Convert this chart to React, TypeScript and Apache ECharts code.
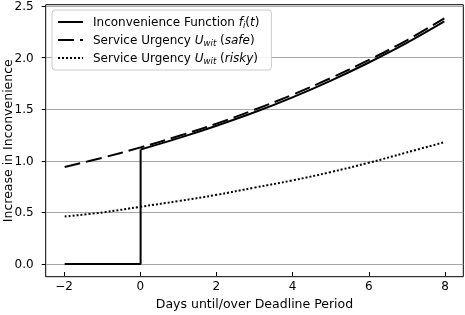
import React, { useEffect, useRef } from "react";
import * as echarts from "echarts";

// Days until/over deadline (x) readings
const daysAll = [-2, -1, 0, 1, 2, 3, 4, 5, 6, 7, 8];
const daysAfter = [0, 1, 2, 3, 4, 5, 6, 7, 8];
const stepDays = [-2, 0, 0];

// Series values
const inconvenienceAfter = [1.11, 1.22, 1.34, 1.47, 1.615, 1.775, 1.95, 2.14, 2.35];
const inconvenienceStep = [0, 0, 1.11];
const urgencySafe = [0.94, 1.03, 1.13, 1.24, 1.36, 1.495, 1.64, 1.8, 1.975, 2.165, 2.38];
const urgencyRisky = [0.46, 0.5, 0.555, 0.61, 0.67, 0.74, 0.81, 0.89, 0.98, 1.08, 1.18];

const seriesNames = ["inconv", "safe", "risky"];
const legendLabels: Record<string, string> = {
  inconv: "Inconvenience Function {i|f}{si|i}({i|t})",
  safe: "Service Urgency {i|U}{si|wit} ({i|safe})",
  risky: "Service Urgency {i|U}{si|wit} ({i|risky})",
};

const xTitle = "Days until/over Deadline Period";
const yTitle = "Increase in Inconvenience";

const FONT = "DejaVu Sans";

export default function App() {
  const ref = useRef<HTMLDivElement>(null);
  useEffect(() => {
    if (!ref.current) return;
    const chart = echarts.init(ref.current, null, { renderer: "svg" });
    const zip = (xs: number[], ys: number[]) => xs.map((x, i) => [x, ys[i]]);
    const gridL = 45.7, gridR = 1.7, gridT = 4.7, gridB = 38.3;
    const H = 315;
    chart.setOption({
      animation: false,
      textStyle: { fontFamily: FONT },
      grid: [
        { left: gridL, right: gridR, top: gridT, bottom: 51 },
        { left: 64, right: 20, top: gridT, bottom: gridB },
        { left: gridL, right: gridR, top: gridT, bottom: gridB, show: true, borderColor: "#000", borderWidth: 1, backgroundColor: "transparent" },
      ],
      xAxis: [
        { type: "value", gridIndex: 0, min: -2.5, max: 8.5, show: false, axisLine: { onZero: false } },
        {
          type: "value", gridIndex: 1, min: -2, max: 8, interval: 2,
          axisLine: { show: false, onZero: false },
          axisTick: { show: true, length: 4, lineStyle: { color: "#000" } },
          axisLabel: { color: "#000", fontSize: 12, margin: 8, fontFamily: FONT, formatter: (v: number) => (v < 0 ? "\u2212" + Math.abs(v) : String(v)) },
          splitLine: { show: false },
          name: xTitle, nameLocation: "middle", nameGap: 25,
          nameTextStyle: { color: "#000", fontSize: 12.5, fontFamily: FONT },
        },
        { type: "value", gridIndex: 2, min: 0, max: 1, show: false, axisLine: { onZero: false } },
      ],
      yAxis: [
        {
          type: "value", gridIndex: 0, min: 0, max: 2.5, interval: 0.5,
          axisLine: { show: false, onZero: false },
          axisTick: { show: true, length: 4, lineStyle: { color: "#000" } },
          axisLabel: { color: "#000", fontSize: 12, margin: 12, fontFamily: FONT, formatter: (v: number) => v.toFixed(1) },
          splitLine: { show: true, lineStyle: { color: "#a6a6a6", width: 1 } },
        },
        { type: "value", gridIndex: 1, min: 0, max: 1, show: false, axisLine: { onZero: false } },
        { type: "value", gridIndex: 2, min: 0, max: 1, show: false, axisLine: { onZero: false } },
      ],
      graphic: [
        {
          type: "text",
          x: 7.5,
          y: (gridT + (H - gridB)) / 2,
          rotation: Math.PI / 2,
          style: { text: yTitle, fill: "#000", font: `12.5px '${FONT}'`, textAlign: "center", textVerticalAlign: "middle" },
        },
      ],
      legend: {
        orient: "vertical",
        left: 52, top: 10,
        data: seriesNames,
        itemWidth: 25, itemHeight: 14, itemGap: 5,
        padding: [6, 12, 5, 5],
        borderColor: "#cccccc", borderWidth: 1, borderRadius: 3,
        backgroundColor: "rgba(255,255,255,0.85)",
        itemStyle: { opacity: 0, borderWidth: 0 },
        formatter: (name: string) => legendLabels[name],
        textStyle: {
          color: "#000", fontSize: 12, fontFamily: FONT, padding: [0, 0, 0, 5],
          rich: {
            i: { fontStyle: "italic", fontSize: 12, fontFamily: FONT, color: "#000" },
            si: { fontStyle: "italic", fontSize: 8.5, fontFamily: FONT, color: "#000", padding: [5, 0, 0, 0] },
          },
        },
      },
      series: [
        {
          name: "inconv", type: "line", xAxisIndex: 0, yAxisIndex: 0, data: zip(daysAfter, inconvenienceAfter),
          smooth: 0.4, showSymbol: false, symbol: "none", clip: false,
          lineStyle: { color: "#000", width: 2, type: "solid" }, itemStyle: { color: "#000" }, z: 4,
        },
        {
          name: "safe", type: "line", xAxisIndex: 0, yAxisIndex: 0, data: zip(daysAll, urgencySafe),
          smooth: 0.4, showSymbol: false, symbol: "none", clip: false,
          lineStyle: { color: "#000", width: 2, type: [16, 6] }, itemStyle: { color: "#000" }, z: 3,
        },
        {
          name: "risky", type: "line", xAxisIndex: 0, yAxisIndex: 0, data: zip(daysAll, urgencyRisky),
          smooth: 0.4, showSymbol: false, symbol: "none", clip: false,
          lineStyle: { color: "#000", width: 2, type: [2, 2] }, itemStyle: { color: "#000" }, z: 3,
        },
        {
          name: "inconv", type: "line", xAxisIndex: 0, yAxisIndex: 0, data: zip(stepDays, inconvenienceStep),
          smooth: false, showSymbol: false, symbol: "none", clip: false,
          lineStyle: { color: "#000", width: 2, type: "solid" }, itemStyle: { color: "#000" }, z: 4,
        },
      ],
    });
    return () => chart.dispose();
  }, []);
  return <div ref={ref} style={{ position: "fixed", left: 0, top: 0, width: 465, height: 315 }} />;
}
